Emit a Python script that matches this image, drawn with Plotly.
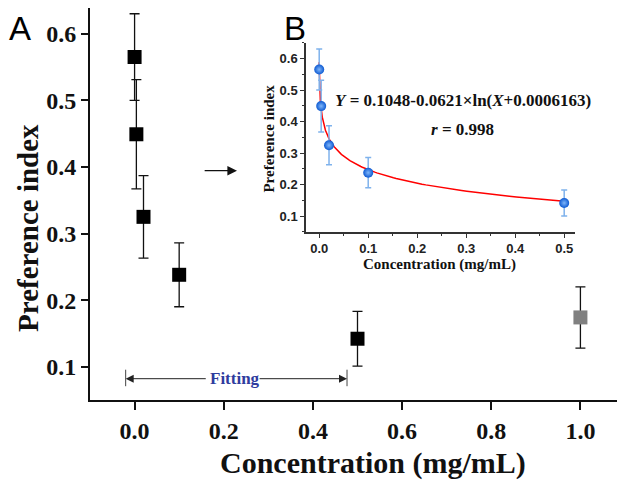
import numpy as np
import plotly.graph_objects as go

# ---- data ----
conc = [0.0, 0.004, 0.02, 0.1, 0.5, 1.0]
pref = [0.565, 0.449, 0.325, 0.238, 0.142, 0.174]
pref_err = [0.065, 0.082, 0.062, 0.048, 0.041, 0.046]
marker_colors = ["#000000", "#000000", "#000000", "#000000", "#000000", "#808080"]

fit_conc = [0.0, 0.004, 0.02, 0.1, 0.5]
fit_pref = [0.565, 0.449, 0.325, 0.238, 0.142]
fit_err = [0.065, 0.082, 0.062, 0.048, 0.041]

# fitted equation shown in panel B
FIT_A, FIT_B, FIT_C = 0.1048, 0.0621, 0.0006163

main_xticks = [0.0, 0.2, 0.4, 0.6, 0.8, 1.0]
main_yticks = [0.1, 0.2, 0.3, 0.4, 0.5, 0.6]
inset_xticks = [0.0, 0.1, 0.2, 0.3, 0.4, 0.5]
inset_yticks = [0.1, 0.2, 0.3, 0.4, 0.5, 0.6]

curve_x = np.concatenate([[-0.0002], np.geomspace(1e-5, 0.5, 300)])
curve_y = FIT_A - FIT_B * np.log(curve_x + FIT_C)

SERIF = "Liberation Serif"
SANS = "Liberation Sans"

fig = go.Figure()

fig.add_trace(go.Scatter(
    x=conc, y=pref, mode="markers",
    marker=dict(symbol="square", size=14, color=marker_colors, line=dict(width=0)),
    error_y=dict(type="data", array=pref_err, visible=True, color="#111111",
                 thickness=1.3, width=5),
    xaxis="x", yaxis="y", showlegend=False,
))

fig.add_trace(go.Scatter(
    x=curve_x, y=curve_y, mode="lines",
    line=dict(color="#ff0000", width=1.5),
    xaxis="x2", yaxis="y2", showlegend=False,
))

fig.add_trace(go.Scatter(
    x=fit_conc, y=fit_pref, mode="markers",
    marker=dict(symbol="circle", size=10, color="#0e5ad2",
                gradient=dict(type="radial", color="#7fb6fa"),
                line=dict(width=0)),
    error_y=dict(type="data", array=fit_err, visible=True, color="#7fb2ec",
                 thickness=1.5, width=3),
    xaxis="x2", yaxis="y2", showlegend=False,
))

axis_common = dict(showgrid=False, zeroline=False, showline=True, ticks="outside")

# page body adds an 8px offset; figure is sized to fill the rest of the window
fig.update_layout(
    width=617, height=472,
    margin=dict(l=82, r=0, t=0, b=80),
    paper_bgcolor="white", plot_bgcolor="white",
    xaxis=dict(**axis_common, range=[-0.1, 1.1], domain=[0, 1],
               tickvals=main_xticks, ticktext=[f"{v:.1f}" for v in main_xticks],
               linecolor="#111111", linewidth=2, tickcolor="#111111", tickwidth=1.5, ticklen=8,
               tickfont=dict(family=SERIF, size=24, color="#111111", weight="bold")),
    yaxis=dict(**axis_common, range=[0.05, 0.6386], domain=[0, 1],
               tickvals=main_yticks, ticktext=[f"{v:.1f}" for v in main_yticks],
               linecolor="#111111", linewidth=2, tickcolor="#111111", tickwidth=1.5, ticklen=7,
               tickfont=dict(family=SERIF, size=24, color="#111111", weight="bold")),
    xaxis2=dict(**axis_common, range=[-0.027, 0.522], domain=[0.4037, 0.9065], anchor="y2",
                tickvals=inset_xticks, ticktext=[f"{v:.1f}" for v in inset_xticks],
                linecolor="#333333", linewidth=1.5, tickcolor="#333333", tickwidth=1.2, ticklen=4,
                minor=dict(ticks="outside", ticklen=2.5, tickcolor="#333333", dtick=0.05, tick0=0),
                tickfont=dict(family=SANS, size=13, color="#222222", weight="bold")),
    yaxis2=dict(**axis_common, range=[0.05, 0.65], domain=[0.4286, 0.9115], anchor="x2",
                tickvals=inset_yticks, ticktext=[f"{v:.1f}" for v in inset_yticks],
                linecolor="#333333", linewidth=1.5, tickcolor="#333333", tickwidth=1.2, ticklen=4,
                minor=dict(ticks="outside", ticklen=2.5, tickcolor="#333333", dtick=0.05, tick0=0.05),
                tickfont=dict(family=SANS, size=13, color="#222222", weight="bold")),
)

ann = []
# axis titles
ann.append(dict(text="Concentration (mg/mL)", xref="paper", yref="paper", x=0.529, y=-0.1607,
                xanchor="center", yanchor="middle", showarrow=False,
                font=dict(family=SERIF, size=30, color="#111111", weight="bold")))
ann.append(dict(text="Preference index", xref="paper", yref="paper", x=-0.117, y=0.440,
                xanchor="center", yanchor="middle", textangle=-90, showarrow=False,
                font=dict(family=SERIF, size=29, color="#111111", weight="bold")))
ann.append(dict(text="Concentration (mg/mL)", xref="paper", yref="paper", x=0.654, y=0.3444,
                xanchor="center", yanchor="middle", showarrow=False,
                font=dict(family=SERIF, size=15, color="#111111", weight="bold")))
ann.append(dict(text="Preference index", xref="paper", yref="paper", x=0.3346, y=0.667,
                xanchor="center", yanchor="middle", textangle=-90, showarrow=False,
                font=dict(family=SERIF, size=15, color="#111111", weight="bold")))
# panel labels
ann.append(dict(text="A", xref="paper", yref="paper", x=-0.13, y=1.0,
                xanchor="center", yanchor="top", showarrow=False,
                font=dict(family=SANS, size=33, color="#000000")))
ann.append(dict(text="B", xref="paper", yref="paper", x=0.383, y=1.0,
                xanchor="center", yanchor="top", showarrow=False,
                font=dict(family=SANS, size=33, color="#000000")))
# equation
ann.append(dict(text="<i>Y</i> = 0.1048-0.0621×ln(<i>X</i>+0.0006163)", xref="paper", yref="paper",
                x=0.697, y=0.7653, xanchor="center", yanchor="middle", showarrow=False,
                font=dict(family=SERIF, size=17, color="#111111", weight="bold")))
ann.append(dict(text="<i>r</i> = 0.998", xref="paper", yref="paper",
                x=0.696, y=0.6913, xanchor="center", yanchor="middle", showarrow=False,
                font=dict(family=SERIF, size=17, color="#111111", weight="bold")))
# arrow pointing to inset
ann.append(dict(text="", x=0.2297, y=0.3943, ax=0.1538, ay=0.3943, xref="x", yref="y",
                axref="x", ayref="y", showarrow=True, arrowhead=2, arrowsize=1.6,
                arrowwidth=1.2, arrowcolor="#111111", standoff=0, startstandoff=0))
# fitting range
ann.append(dict(text="Fitting", xref="x", yref="y", x=0.2245, y=0.082,
                xanchor="center", yanchor="middle", showarrow=False,
                font=dict(family=SERIF, size=17, color="#2f3c9e", weight="bold")))
ann.append(dict(text="", x=-0.020, y=0.082, ax=0.163, ay=0.082, xref="x", yref="y",
                axref="x", ayref="y", showarrow=True, arrowhead=2, arrowsize=1.6,
                arrowwidth=1, arrowcolor="#222222", standoff=0, startstandoff=0))
ann.append(dict(text="", x=0.4765, y=0.082, ax=0.277, ay=0.082, xref="x", yref="y",
                axref="x", ayref="y", showarrow=True, arrowhead=2, arrowsize=1.6,
                arrowwidth=1, arrowcolor="#222222", standoff=0, startstandoff=0))
fig.update_layout(annotations=ann)

fig.add_shape(type="line", xref="x", yref="y", x0=-0.020, x1=-0.020, y0=0.0707, y1=0.0955,
              line=dict(color="#444444", width=1))
fig.add_shape(type="line", xref="x", yref="y", x0=0.4765, x1=0.4765, y0=0.0707, y1=0.0955,
              line=dict(color="#444444", width=1))

fig.write_html("out.html")
